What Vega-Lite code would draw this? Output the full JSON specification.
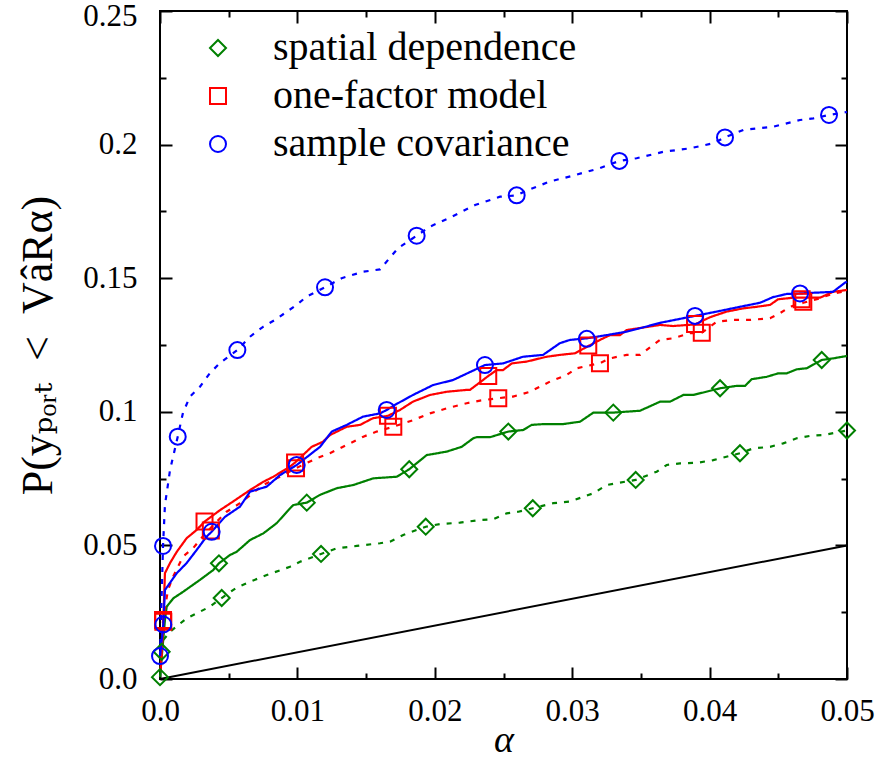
{
  "$schema": "https://vega.github.io/schema/vega-lite/v6.json",
  "width": 687,
  "height": 668,
  "autosize": {"type": "none"},
  "padding": {"left": 160, "top": 11, "right": 30, "bottom": 83},
  "background": "white",
  "config": {
    "view": {"stroke": "black", "strokeWidth": 2},
    "axis": {
      "domain": false, "grid": false, "tickColor": "black", "tickWidth": 2,
      "labelFont": "Liberation Serif, DejaVu Serif, serif", "labelFontSize": 31, "labelColor": "black",
      "titleFont": "Liberation Serif, DejaVu Serif, serif", "titleColor": "black", "titleFontWeight": "normal",
      "labelFlush": false, "labelOverlap": false, "labelBound": false
    }
  },
  "datasets": {
    "diag": [{"a": 0, "p": 0}, {"a": 0.05, "p": 0.05}],
    "lines": [
      {"m":"spatial dependence","k":"solid","a":0,"p":0.0007},{"m":"spatial dependence","k":"solid","a":0.00036,"p":0.0221},{"m":"spatial dependence","k":"solid","a":0.00049,"p":0.0271},{"m":"spatial dependence","k":"solid","a":0.00097,"p":0.0302},{"m":"spatial dependence","k":"solid","a":0.0017,"p":0.0327},{"m":"spatial dependence","k":"solid","a":0.00291,"p":0.0371},{"m":"spatial dependence","k":"solid","a":0.00388,"p":0.0408},{"m":"spatial dependence","k":"solid","a":0.00429,"p":0.0433},{"m":"spatial dependence","k":"solid","a":0.00509,"p":0.0464},{"m":"spatial dependence","k":"solid","a":0.00558,"p":0.0476},{"m":"spatial dependence","k":"solid","a":0.00655,"p":0.052},{"m":"spatial dependence","k":"solid","a":0.00752,"p":0.0545},{"m":"spatial dependence","k":"solid","a":0.00849,"p":0.0583},{"m":"spatial dependence","k":"solid","a":0.00934,"p":0.0632},{"m":"spatial dependence","k":"solid","a":0.0097,"p":0.0651},{"m":"spatial dependence","k":"solid","a":0.01068,"p":0.066},{"m":"spatial dependence","k":"solid","a":0.01164,"p":0.0689},{"m":"spatial dependence","k":"solid","a":0.01286,"p":0.0714},{"m":"spatial dependence","k":"solid","a":0.01407,"p":0.0726},{"m":"spatial dependence","k":"solid","a":0.01552,"p":0.0751},{"m":"spatial dependence","k":"solid","a":0.01723,"p":0.0757},{"m":"spatial dependence","k":"solid","a":0.01814,"p":0.0785},{"m":"spatial dependence","k":"solid","a":0.01941,"p":0.0838},{"m":"spatial dependence","k":"solid","a":0.02087,"p":0.0851},{"m":"spatial dependence","k":"solid","a":0.02196,"p":0.0869},{"m":"spatial dependence","k":"solid","a":0.0228,"p":0.0901},{"m":"spatial dependence","k":"solid","a":0.02305,"p":0.0905},{"m":"spatial dependence","k":"solid","a":0.02402,"p":0.0905},{"m":"spatial dependence","k":"solid","a":0.02535,"p":0.0926},{"m":"spatial dependence","k":"solid","a":0.02644,"p":0.0932},{"m":"spatial dependence","k":"solid","a":0.02705,"p":0.0951},{"m":"spatial dependence","k":"solid","a":0.0279,"p":0.0954},{"m":"spatial dependence","k":"solid","a":0.02935,"p":0.0954},{"m":"spatial dependence","k":"solid","a":0.03057,"p":0.0963},{"m":"spatial dependence","k":"solid","a":0.03154,"p":0.0997},{"m":"spatial dependence","k":"solid","a":0.03299,"p":0.0997},{"m":"spatial dependence","k":"solid","a":0.03494,"p":0.1004},{"m":"spatial dependence","k":"solid","a":0.0364,"p":0.1038},{"m":"spatial dependence","k":"solid","a":0.03712,"p":0.1038},{"m":"spatial dependence","k":"solid","a":0.03809,"p":0.1063},{"m":"spatial dependence","k":"solid","a":0.03881,"p":0.1063},{"m":"spatial dependence","k":"solid","a":0.04076,"p":0.1088},{"m":"spatial dependence","k":"solid","a":0.04197,"p":0.1097},{"m":"spatial dependence","k":"solid","a":0.04258,"p":0.1097},{"m":"spatial dependence","k":"solid","a":0.04306,"p":0.1122},{"m":"spatial dependence","k":"solid","a":0.04416,"p":0.1131},{"m":"spatial dependence","k":"solid","a":0.045,"p":0.1144},{"m":"spatial dependence","k":"solid","a":0.04561,"p":0.1144},{"m":"spatial dependence","k":"solid","a":0.04634,"p":0.1159},{"m":"spatial dependence","k":"solid","a":0.04707,"p":0.1163},{"m":"spatial dependence","k":"solid","a":0.04816,"p":0.1194},{"m":"spatial dependence","k":"solid","a":0.049,"p":0.12},{"m":"spatial dependence","k":"solid","a":0.05,"p":0.1209},
      {"m":"spatial dependence","k":"dotted","a":0.00012,"p":0.0102},{"m":"spatial dependence","k":"dotted","a":0.00024,"p":0.0146},{"m":"spatial dependence","k":"dotted","a":0.00073,"p":0.0177},{"m":"spatial dependence","k":"dotted","a":0.00133,"p":0.0202},{"m":"spatial dependence","k":"dotted","a":0.00194,"p":0.0227},{"m":"spatial dependence","k":"dotted","a":0.00291,"p":0.0252},{"m":"spatial dependence","k":"dotted","a":0.00364,"p":0.0271},{"m":"spatial dependence","k":"dotted","a":0.00449,"p":0.0303},{"m":"spatial dependence","k":"dotted","a":0.00558,"p":0.0342},{"m":"spatial dependence","k":"dotted","a":0.00655,"p":0.0364},{"m":"spatial dependence","k":"dotted","a":0.00777,"p":0.0389},{"m":"spatial dependence","k":"dotted","a":0.00946,"p":0.042},{"m":"spatial dependence","k":"dotted","a":0.01019,"p":0.0439},{"m":"spatial dependence","k":"dotted","a":0.01172,"p":0.0468},{"m":"spatial dependence","k":"dotted","a":0.01286,"p":0.0489},{"m":"spatial dependence","k":"dotted","a":0.01432,"p":0.0498},{"m":"spatial dependence","k":"dotted","a":0.01601,"p":0.0508},{"m":"spatial dependence","k":"dotted","a":0.01674,"p":0.0514},{"m":"spatial dependence","k":"dotted","a":0.0177,"p":0.0539},{"m":"spatial dependence","k":"dotted","a":0.01934,"p":0.057},{"m":"spatial dependence","k":"dotted","a":0.02038,"p":0.058},{"m":"spatial dependence","k":"dotted","a":0.02183,"p":0.0585},{"m":"spatial dependence","k":"dotted","a":0.02329,"p":0.0595},{"m":"spatial dependence","k":"dotted","a":0.02426,"p":0.0598},{"m":"spatial dependence","k":"dotted","a":0.02523,"p":0.062},{"m":"spatial dependence","k":"dotted","a":0.02608,"p":0.0626},{"m":"spatial dependence","k":"dotted","a":0.02713,"p":0.0639},{"m":"spatial dependence","k":"dotted","a":0.02862,"p":0.0658},{"m":"spatial dependence","k":"dotted","a":0.02984,"p":0.0664},{"m":"spatial dependence","k":"dotted","a":0.03081,"p":0.0682},{"m":"spatial dependence","k":"dotted","a":0.03154,"p":0.0695},{"m":"spatial dependence","k":"dotted","a":0.03251,"p":0.0726},{"m":"spatial dependence","k":"dotted","a":0.03348,"p":0.0735},{"m":"spatial dependence","k":"dotted","a":0.03462,"p":0.0745},{"m":"spatial dependence","k":"dotted","a":0.03615,"p":0.0776},{"m":"spatial dependence","k":"dotted","a":0.03688,"p":0.0801},{"m":"spatial dependence","k":"dotted","a":0.03785,"p":0.0807},{"m":"spatial dependence","k":"dotted","a":0.03906,"p":0.0809},{"m":"spatial dependence","k":"dotted","a":0.04027,"p":0.0819},{"m":"spatial dependence","k":"dotted","a":0.04221,"p":0.0845},{"m":"spatial dependence","k":"dotted","a":0.04318,"p":0.0863},{"m":"spatial dependence","k":"dotted","a":0.0444,"p":0.0869},{"m":"spatial dependence","k":"dotted","a":0.04536,"p":0.0882},{"m":"spatial dependence","k":"dotted","a":0.04634,"p":0.0901},{"m":"spatial dependence","k":"dotted","a":0.04731,"p":0.091},{"m":"spatial dependence","k":"dotted","a":0.04828,"p":0.0913},{"m":"spatial dependence","k":"dotted","a":0.049,"p":0.092},{"m":"spatial dependence","k":"dotted","a":0.05,"p":0.093},
      {"m":"one-factor model","k":"solid","a":0.00005,"p":0.003},{"m":"one-factor model","k":"solid","a":0.00024,"p":0.0214},{"m":"one-factor model","k":"solid","a":0.00036,"p":0.0396},{"m":"one-factor model","k":"solid","a":0.00073,"p":0.0434},{"m":"one-factor model","k":"solid","a":0.00122,"p":0.0476},{"m":"one-factor model","k":"solid","a":0.00194,"p":0.0527},{"m":"one-factor model","k":"solid","a":0.00267,"p":0.0558},{"m":"one-factor model","k":"solid","a":0.00324,"p":0.0589},{"m":"one-factor model","k":"solid","a":0.00437,"p":0.0632},{"m":"one-factor model","k":"solid","a":0.00531,"p":0.0664},{"m":"one-factor model","k":"solid","a":0.00655,"p":0.0707},{"m":"one-factor model","k":"solid","a":0.00752,"p":0.0738},{"m":"one-factor model","k":"solid","a":0.00825,"p":0.0757},{"m":"one-factor model","k":"solid","a":0.00946,"p":0.0795},{"m":"one-factor model","k":"solid","a":0.00983,"p":0.081},{"m":"one-factor model","k":"solid","a":0.01104,"p":0.0869},{"m":"one-factor model","k":"solid","a":0.01186,"p":0.0888},{"m":"one-factor model","k":"solid","a":0.01237,"p":0.0913},{"m":"one-factor model","k":"solid","a":0.01359,"p":0.0944},{"m":"one-factor model","k":"solid","a":0.01456,"p":0.0951},{"m":"one-factor model","k":"solid","a":0.0155,"p":0.0976},{"m":"one-factor model","k":"solid","a":0.01659,"p":0.0985},{"m":"one-factor model","k":"solid","a":0.01747,"p":0.1007},{"m":"one-factor model","k":"solid","a":0.01841,"p":0.1038},{"m":"one-factor model","k":"solid","a":0.01965,"p":0.1063},{"m":"one-factor model","k":"solid","a":0.02087,"p":0.1075},{"m":"one-factor model","k":"solid","a":0.02232,"p":0.1082},{"m":"one-factor model","k":"solid","a":0.02256,"p":0.1082},{"m":"one-factor model","k":"solid","a":0.02351,"p":0.1119},{"m":"one-factor model","k":"solid","a":0.02389,"p":0.1134},{"m":"one-factor model","k":"solid","a":0.0245,"p":0.1156},{"m":"one-factor model","k":"solid","a":0.02496,"p":0.1156},{"m":"one-factor model","k":"solid","a":0.0256,"p":0.1181},{"m":"one-factor model","k":"solid","a":0.02669,"p":0.1188},{"m":"one-factor model","k":"solid","a":0.02814,"p":0.1206},{"m":"one-factor model","k":"solid","a":0.02911,"p":0.1213},{"m":"one-factor model","k":"solid","a":0.0302,"p":0.1219},{"m":"one-factor model","k":"solid","a":0.03117,"p":0.1246},{"m":"one-factor model","k":"solid","a":0.03202,"p":0.1269},{"m":"one-factor model","k":"solid","a":0.03275,"p":0.1287},{"m":"one-factor model","k":"solid","a":0.03348,"p":0.1287},{"m":"one-factor model","k":"solid","a":0.03397,"p":0.1306},{"m":"one-factor model","k":"solid","a":0.03639,"p":0.1325},{"m":"one-factor model","k":"solid","a":0.03734,"p":0.1321},{"m":"one-factor model","k":"solid","a":0.03894,"p":0.1327},{"m":"one-factor model","k":"solid","a":0.04003,"p":0.1354},{"m":"one-factor model","k":"solid","a":0.04124,"p":0.1375},{"m":"one-factor model","k":"solid","a":0.04243,"p":0.1387},{"m":"one-factor model","k":"solid","a":0.04343,"p":0.1393},{"m":"one-factor model","k":"solid","a":0.0444,"p":0.14},{"m":"one-factor model","k":"solid","a":0.04498,"p":0.1421},{"m":"one-factor model","k":"solid","a":0.04607,"p":0.1427},{"m":"one-factor model","k":"solid","a":0.04804,"p":0.1427},{"m":"one-factor model","k":"solid","a":0.04898,"p":0.1449},{"m":"one-factor model","k":"solid","a":0.05,"p":0.1456},
      {"m":"one-factor model","k":"dotted","a":0.00005,"p":0.003},{"m":"one-factor model","k":"dotted","a":0.00022,"p":0.0221},{"m":"one-factor model","k":"dotted","a":0.00058,"p":0.0333},{"m":"one-factor model","k":"dotted","a":0.00095,"p":0.0383},{"m":"one-factor model","k":"dotted","a":0.00167,"p":0.0458},{"m":"one-factor model","k":"dotted","a":0.0024,"p":0.0489},{"m":"one-factor model","k":"dotted","a":0.0033,"p":0.0545},{"m":"one-factor model","k":"dotted","a":0.00485,"p":0.0626},{"m":"one-factor model","k":"dotted","a":0.00582,"p":0.0658},{"m":"one-factor model","k":"dotted","a":0.0075,"p":0.0726},{"m":"one-factor model","k":"dotted","a":0.00873,"p":0.0757},{"m":"one-factor model","k":"dotted","a":0.0099,"p":0.0789},{"m":"one-factor model","k":"dotted","a":0.0114,"p":0.0826},{"m":"one-factor model","k":"dotted","a":0.01237,"p":0.0845},{"m":"one-factor model","k":"dotted","a":0.01383,"p":0.0882},{"m":"one-factor model","k":"dotted","a":0.0148,"p":0.0907},{"m":"one-factor model","k":"dotted","a":0.01577,"p":0.0926},{"m":"one-factor model","k":"dotted","a":0.01698,"p":0.0944},{"m":"one-factor model","k":"dotted","a":0.01843,"p":0.0969},{"m":"one-factor model","k":"dotted","a":0.01965,"p":0.0994},{"m":"one-factor model","k":"dotted","a":0.02087,"p":0.1013},{"m":"one-factor model","k":"dotted","a":0.02232,"p":0.1032},{"m":"one-factor model","k":"dotted","a":0.02329,"p":0.1042},{"m":"one-factor model","k":"dotted","a":0.02462,"p":0.1051},{"m":"one-factor model","k":"dotted","a":0.02569,"p":0.1057},{"m":"one-factor model","k":"dotted","a":0.02693,"p":0.1075},{"m":"one-factor model","k":"dotted","a":0.02838,"p":0.1113},{"m":"one-factor model","k":"dotted","a":0.0296,"p":0.1138},{"m":"one-factor model","k":"dotted","a":0.03033,"p":0.1163},{"m":"one-factor model","k":"dotted","a":0.03202,"p":0.1182},{"m":"one-factor model","k":"dotted","a":0.03275,"p":0.12},{"m":"one-factor model","k":"dotted","a":0.03397,"p":0.1213},{"m":"one-factor model","k":"dotted","a":0.03494,"p":0.1213},{"m":"one-factor model","k":"dotted","a":0.03588,"p":0.125},{"m":"one-factor model","k":"dotted","a":0.03639,"p":0.1269},{"m":"one-factor model","k":"dotted","a":0.03734,"p":0.1275},{"m":"one-factor model","k":"dotted","a":0.03857,"p":0.1294},{"m":"one-factor model","k":"dotted","a":0.03943,"p":0.1296},{"m":"one-factor model","k":"dotted","a":0.04052,"p":0.1337},{"m":"one-factor model","k":"dotted","a":0.0417,"p":0.1344},{"m":"one-factor model","k":"dotted","a":0.04294,"p":0.1344},{"m":"one-factor model","k":"dotted","a":0.0444,"p":0.135},{"m":"one-factor model","k":"dotted","a":0.04512,"p":0.1369},{"m":"one-factor model","k":"dotted","a":0.04585,"p":0.1393},{"m":"one-factor model","k":"dotted","a":0.04682,"p":0.1408},{"m":"one-factor model","k":"dotted","a":0.04804,"p":0.1425},{"m":"one-factor model","k":"dotted","a":0.049,"p":0.1443},{"m":"one-factor model","k":"dotted","a":0.05,"p":0.1452},
      {"m":"sample covariance","k":"solid","a":0,"p":0.0086},{"m":"sample covariance","k":"solid","a":0.00024,"p":0.0204},{"m":"sample covariance","k":"solid","a":0.00036,"p":0.0333},{"m":"sample covariance","k":"solid","a":0.00122,"p":0.0396},{"m":"sample covariance","k":"solid","a":0.00194,"p":0.0434},{"m":"sample covariance","k":"solid","a":0.00267,"p":0.0483},{"m":"sample covariance","k":"solid","a":0.00339,"p":0.0533},{"m":"sample covariance","k":"solid","a":0.00376,"p":0.0551},{"m":"sample covariance","k":"solid","a":0.00473,"p":0.0607},{"m":"sample covariance","k":"solid","a":0.00582,"p":0.0645},{"m":"sample covariance","k":"solid","a":0.00655,"p":0.0701},{"m":"sample covariance","k":"solid","a":0.00777,"p":0.072},{"m":"sample covariance","k":"solid","a":0.00873,"p":0.0763},{"m":"sample covariance","k":"solid","a":0.00995,"p":0.0801},{"m":"sample covariance","k":"solid","a":0.01165,"p":0.0869},{"m":"sample covariance","k":"solid","a":0.0125,"p":0.0926},{"m":"sample covariance","k":"solid","a":0.01359,"p":0.0951},{"m":"sample covariance","k":"solid","a":0.01478,"p":0.0982},{"m":"sample covariance","k":"solid","a":0.01601,"p":0.0994},{"m":"sample covariance","k":"solid","a":0.0165,"p":0.1007},{"m":"sample covariance","k":"solid","a":0.01707,"p":0.1025},{"m":"sample covariance","k":"solid","a":0.01841,"p":0.1063},{"m":"sample covariance","k":"solid","a":0.01987,"p":0.11},{"m":"sample covariance","k":"solid","a":0.02133,"p":0.1119},{"m":"sample covariance","k":"solid","a":0.02183,"p":0.1131},{"m":"sample covariance","k":"solid","a":0.02365,"p":0.1175},{"m":"sample covariance","k":"solid","a":0.02496,"p":0.1181},{"m":"sample covariance","k":"solid","a":0.02642,"p":0.1206},{"m":"sample covariance","k":"solid","a":0.02788,"p":0.1213},{"m":"sample covariance","k":"solid","a":0.02911,"p":0.1257},{"m":"sample covariance","k":"solid","a":0.02984,"p":0.1269},{"m":"sample covariance","k":"solid","a":0.03106,"p":0.1275},{"m":"sample covariance","k":"solid","a":0.03251,"p":0.1287},{"m":"sample covariance","k":"solid","a":0.03397,"p":0.13},{"m":"sample covariance","k":"solid","a":0.0365,"p":0.1334},{"m":"sample covariance","k":"solid","a":0.03894,"p":0.1359},{"m":"sample covariance","k":"solid","a":0.04052,"p":0.1375},{"m":"sample covariance","k":"solid","a":0.04221,"p":0.1393},{"m":"sample covariance","k":"solid","a":0.04367,"p":0.1408},{"m":"sample covariance","k":"solid","a":0.04461,"p":0.1429},{"m":"sample covariance","k":"solid","a":0.04561,"p":0.1441},{"m":"sample covariance","k":"solid","a":0.04658,"p":0.1443},{"m":"sample covariance","k":"solid","a":0.04898,"p":0.1449},{"m":"sample covariance","k":"solid","a":0.04985,"p":0.1483},{"m":"sample covariance","k":"solid","a":0.05,"p":0.1487},
      {"m":"sample covariance","k":"dotted","a":0,"p":0.0086},{"m":"sample covariance","k":"dotted","a":0.00022,"p":0.0498},{"m":"sample covariance","k":"dotted","a":0.00036,"p":0.0651},{"m":"sample covariance","k":"dotted","a":0.00073,"p":0.0782},{"m":"sample covariance","k":"dotted","a":0.00129,"p":0.0907},{"m":"sample covariance","k":"dotted","a":0.00167,"p":0.0996},{"m":"sample covariance","k":"dotted","a":0.00218,"p":0.1057},{"m":"sample covariance","k":"dotted","a":0.00291,"p":0.1094},{"m":"sample covariance","k":"dotted","a":0.00364,"p":0.1145},{"m":"sample covariance","k":"dotted","a":0.00437,"p":0.1183},{"m":"sample covariance","k":"dotted","a":0.00563,"p":0.1231},{"m":"sample covariance","k":"dotted","a":0.00655,"p":0.1281},{"m":"sample covariance","k":"dotted","a":0.0075,"p":0.1318},{"m":"sample covariance","k":"dotted","a":0.00837,"p":0.1344},{"m":"sample covariance","k":"dotted","a":0.0091,"p":0.137},{"m":"sample covariance","k":"dotted","a":0.00995,"p":0.14},{"m":"sample covariance","k":"dotted","a":0.01067,"p":0.1431},{"m":"sample covariance","k":"dotted","a":0.01201,"p":0.1466},{"m":"sample covariance","k":"dotted","a":0.01322,"p":0.15},{"m":"sample covariance","k":"dotted","a":0.01477,"p":0.1524},{"m":"sample covariance","k":"dotted","a":0.01601,"p":0.1533},{"m":"sample covariance","k":"dotted","a":0.01732,"p":0.1612},{"m":"sample covariance","k":"dotted","a":0.01868,"p":0.1659},{"m":"sample covariance","k":"dotted","a":0.01965,"p":0.1693},{"m":"sample covariance","k":"dotted","a":0.02123,"p":0.173},{"m":"sample covariance","k":"dotted","a":0.02293,"p":0.1774},{"m":"sample covariance","k":"dotted","a":0.02475,"p":0.1805},{"m":"sample covariance","k":"dotted","a":0.02596,"p":0.181},{"m":"sample covariance","k":"dotted","a":0.02669,"p":0.1828},{"m":"sample covariance","k":"dotted","a":0.02838,"p":0.1862},{"m":"sample covariance","k":"dotted","a":0.03008,"p":0.1884},{"m":"sample covariance","k":"dotted","a":0.03202,"p":0.1912},{"m":"sample covariance","k":"dotted","a":0.03343,"p":0.1939},{"m":"sample covariance","k":"dotted","a":0.03469,"p":0.1949},{"m":"sample covariance","k":"dotted","a":0.03663,"p":0.1973},{"m":"sample covariance","k":"dotted","a":0.03857,"p":0.1986},{"m":"sample covariance","k":"dotted","a":0.04027,"p":0.2005},{"m":"sample covariance","k":"dotted","a":0.04112,"p":0.2027},{"m":"sample covariance","k":"dotted","a":0.04246,"p":0.2055},{"m":"sample covariance","k":"dotted","a":0.04464,"p":0.2067},{"m":"sample covariance","k":"dotted","a":0.04658,"p":0.2092},{"m":"sample covariance","k":"dotted","a":0.04755,"p":0.2098},{"m":"sample covariance","k":"dotted","a":0.04869,"p":0.2111},{"m":"sample covariance","k":"dotted","a":0.05,"p":0.2122}
    ],
    "marks": [
      {"m":"spatial dependence","a":0,"p":0.0007},{"m":"spatial dependence","a":0.00429,"p":0.0433},{"m":"spatial dependence","a":0.01068,"p":0.066},{"m":"spatial dependence","a":0.01814,"p":0.0785},{"m":"spatial dependence","a":0.02535,"p":0.0926},{"m":"spatial dependence","a":0.03299,"p":0.0997},{"m":"spatial dependence","a":0.04076,"p":0.1088},{"m":"spatial dependence","a":0.04816,"p":0.1194},
      {"m":"spatial dependence","a":0.00012,"p":0.0102},{"m":"spatial dependence","a":0.00449,"p":0.0303},{"m":"spatial dependence","a":0.01172,"p":0.0468},{"m":"spatial dependence","a":0.01934,"p":0.057},{"m":"spatial dependence","a":0.02713,"p":0.0639},{"m":"spatial dependence","a":0.03462,"p":0.0745},{"m":"spatial dependence","a":0.04221,"p":0.0845},{"m":"spatial dependence","a":0.05,"p":0.093},
      {"m":"one-factor model","a":0.00024,"p":0.0214},{"m":"one-factor model","a":0.00324,"p":0.0589},{"m":"one-factor model","a":0.00983,"p":0.081},{"m":"one-factor model","a":0.01659,"p":0.0985},{"m":"one-factor model","a":0.02389,"p":0.1134},{"m":"one-factor model","a":0.03117,"p":0.1248},{"m":"one-factor model","a":0.03894,"p":0.1329},{"m":"one-factor model","a":0.0467,"p":0.1421},
      {"m":"one-factor model","a":0.00022,"p":0.0221},{"m":"one-factor model","a":0.0037,"p":0.0556},{"m":"one-factor model","a":0.0099,"p":0.0789},{"m":"one-factor model","a":0.01698,"p":0.0944},{"m":"one-factor model","a":0.02462,"p":0.1051},{"m":"one-factor model","a":0.03202,"p":0.1182},{"m":"one-factor model","a":0.03943,"p":0.1296},{"m":"one-factor model","a":0.04682,"p":0.1412},
      {"m":"sample covariance","a":0.00024,"p":0.0204},{"m":"sample covariance","a":0.00376,"p":0.0551},{"m":"sample covariance","a":0.00995,"p":0.0801},{"m":"sample covariance","a":0.0165,"p":0.1007},{"m":"sample covariance","a":0.02365,"p":0.1175},{"m":"sample covariance","a":0.03106,"p":0.1273},{"m":"sample covariance","a":0.03894,"p":0.1359},{"m":"sample covariance","a":0.04658,"p":0.1443},
      {"m":"sample covariance","a":0,"p":0.0086},{"m":"sample covariance","a":0.00022,"p":0.0498},{"m":"sample covariance","a":0.00129,"p":0.0907},{"m":"sample covariance","a":0.00563,"p":0.1231},{"m":"sample covariance","a":0.01201,"p":0.1466},{"m":"sample covariance","a":0.01868,"p":0.1659},{"m":"sample covariance","a":0.02596,"p":0.181},{"m":"sample covariance","a":0.03343,"p":0.1939},{"m":"sample covariance","a":0.04112,"p":0.2027},{"m":"sample covariance","a":0.04869,"p":0.2111}
    ]
  },
  "layer": [
    {
      "data": {"name": "diag"},
      "mark": {"type": "line", "color": "black", "strokeWidth": 2},
      "encoding": {
        "x": {"field": "a", "type": "quantitative", "scale": {"domain": [0, 0.05], "nice": false, "zero": false},
          "axis": {"orient": "bottom", "values": [0,0.005,0.01,0.015,0.02,0.025,0.03,0.035,0.04,0.045,0.05],
            "tickSize": {"condition": {"test": "abs(datum.value*100-round(datum.value*100))<0.001", "value": -12}, "value": -6},
            "labelExpr": "abs(datum.value*100-round(datum.value*100))<0.001 ? (datum.value==0 ? '0.0' : format(datum.value, '.2~f')) : ''",
            "labelPadding": 29, "title": "α", "titleFontSize": 38, "titleFontStyle": "italic", "titlePadding": -11}},
        "y": {"field": "p", "type": "quantitative", "scale": {"domain": [0, 0.25], "nice": false, "zero": false},
          "axis": {"orient": "left", "values": [0,0.025,0.05,0.075,0.1,0.125,0.15,0.175,0.2,0.225,0.25],
            "tickSize": {"condition": {"test": "abs(datum.value*20-round(datum.value*20))<0.001", "value": -12}, "value": -6},
            "labelOffset": {"condition": {"test": "datum.value > 0.24", "value": 5}, "value": 0},
            "labelExpr": "abs(datum.value*20-round(datum.value*20))<0.001 ? (datum.value==0 ? '0.0' : format(datum.value, '.2~f')) : ''",
            "labelPadding": 35, "title": "P(y\u209a\u2092\u1d63\u209c\u2002<\u2002Va\u0302R\u03b1)", "titleFontSize": 44, "titlePadding": 22}}
      }
    },
    {
      "data": {"name": "lines"},
      "mark": {"type": "line", "strokeWidth": 2.2},
      "encoding": {
        "x": {"field": "a", "type": "quantitative", "scale": {"domain": [0, 0.05], "nice": false, "zero": false},
          "axis": {"orient": "top", "values": [0,0.005,0.01,0.015,0.02,0.025,0.03,0.035,0.04,0.045,0.05],
            "tickSize": {"condition": {"test": "abs(datum.value*100-round(datum.value*100))<0.001", "value": -12}, "value": -6},
            "labels": false, "title": null}},
        "y": {"field": "p", "type": "quantitative", "scale": {"domain": [0, 0.25], "nice": false, "zero": false},
          "axis": {"orient": "right", "values": [0,0.025,0.05,0.075,0.1,0.125,0.15,0.175,0.2,0.225,0.25],
            "tickSize": {"condition": {"test": "abs(datum.value*20-round(datum.value*20))<0.001", "value": -12}, "value": -6},
            "labels": false, "title": null}},
        "color": {"field": "m", "type": "nominal", "scale": {"domain": ["spatial dependence", "one-factor model", "sample covariance"], "range": ["#008000", "#ff0000", "#0000ff"]}, "legend": null},
        "strokeDash": {"field": "k", "type": "nominal", "scale": {"domain": ["solid", "dotted"], "range": [[1, 0], [5, 7]]}, "legend": null}
      }
    },
    {
      "data": {"name": "marks"},
      "mark": {"type": "point", "filled": false, "strokeWidth": 2, "size": 256, "opacity": 1},
      "encoding": {
        "x": {"field": "a", "type": "quantitative", "scale": {"domain": [0, 0.05], "nice": false, "zero": false}, "axis": null},
        "y": {"field": "p", "type": "quantitative", "scale": {"domain": [0, 0.25], "nice": false, "zero": false}, "axis": null},
        "color": {"field": "m", "type": "nominal", "scale": {"domain": ["spatial dependence", "one-factor model", "sample covariance"], "range": ["#008000", "#ff0000", "#0000ff"]},
          "legend": {"orient": "none", "legendX": 38, "legendY": 17, "title": null, "labelFont": "Liberation Serif, DejaVu Serif, serif", "labelFontSize": 40, "labelColor": "black", "labelLimit": 0, "symbolSize": 256, "symbolStrokeWidth": 2, "symbolOpacity": 1, "labelOffset": 35, "rowPadding": 8, "padding": 0}},
        "shape": {"field": "m", "type": "nominal", "scale": {"domain": ["spatial dependence", "one-factor model", "sample covariance"], "range": ["diamond", "square", "circle"]},
          "legend": {"orient": "none", "legendX": 38, "legendY": 17, "title": null, "labelFont": "Liberation Serif, DejaVu Serif, serif", "labelFontSize": 40, "labelColor": "black", "labelLimit": 0, "symbolSize": 256, "symbolStrokeWidth": 2, "symbolOpacity": 1, "labelOffset": 35, "rowPadding": 8, "padding": 0}}
      }
    }
  ],
  "resolve": {"axis": {"x": "independent", "y": "independent"}, "legend": {"color": "independent", "shape": "independent"}}
}
